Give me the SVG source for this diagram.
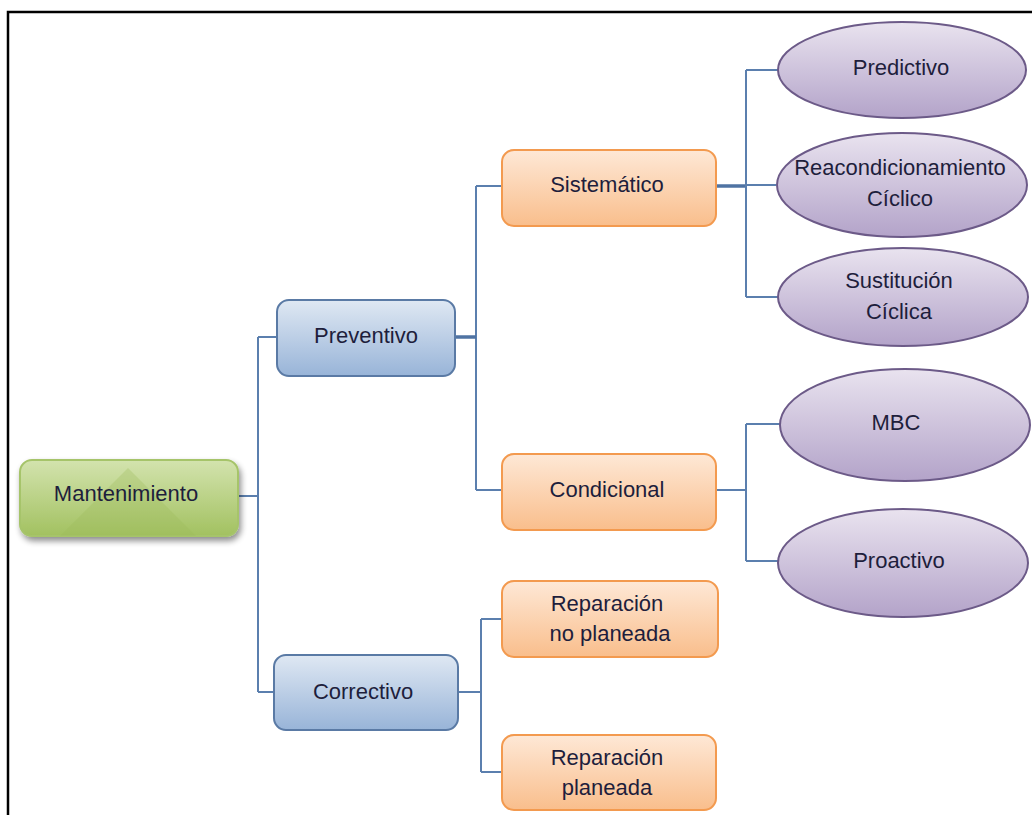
<svg xmlns="http://www.w3.org/2000/svg" width="1032" height="815" viewBox="0 0 1032 815">
<defs>
<linearGradient id="gOr" x1="0" y1="0" x2="0" y2="1"><stop offset="0" stop-color="#fee8d6"/><stop offset="1" stop-color="#f9be8c"/></linearGradient>
<linearGradient id="gBl" x1="0" y1="0" x2="0" y2="1"><stop offset="0" stop-color="#dfe8f3"/><stop offset="1" stop-color="#98b4d8"/></linearGradient>
<linearGradient id="gPu" x1="0" y1="0" x2="0" y2="1"><stop offset="0" stop-color="#e9e3ef"/><stop offset="1" stop-color="#b3a3c9"/></linearGradient>
<linearGradient id="gGr" x1="0" y1="0" x2="0" y2="1"><stop offset="0" stop-color="#d3e3ae"/><stop offset="1" stop-color="#a2c160"/></linearGradient>
<filter id="sh" x="-10%" y="-10%" width="125%" height="140%"><feGaussianBlur in="SourceAlpha" stdDeviation="3"/><feOffset dx="2" dy="4"/><feComponentTransfer><feFuncA type="linear" slope="0.45"/></feComponentTransfer><feMerge><feMergeNode/><feMergeNode in="SourceGraphic"/></feMerge></filter>
</defs>
<style>
text{font-family:"Liberation Sans",Arial,sans-serif;font-size:22px;fill:#1e1e3c;text-anchor:middle}
.or{fill:url(#gOr);stroke:#f39a4f;stroke-width:2}
.bl{fill:url(#gBl);stroke:#5a7aa5;stroke-width:2}
.pu{fill:url(#gPu);stroke:#6c5a88;stroke-width:2}
.gr{fill:url(#gGr);stroke:#a6c46b;stroke-width:2}
.cn{fill:none;stroke:#5b7fae;stroke-width:2}
.ck{fill:none;stroke:#4f73a3;stroke-width:3.5}
</style>
<rect x="8" y="12" width="1040" height="820" fill="none" stroke="#000" stroke-width="2.5"/>
<g id="connectors">
<path class="cn" d="M238 496H258M258 337V692M258 337H277M258 692H274"/>
<path class="cn" d="M476 186V490M476 186H502M476 490H502"/>
<path class="ck" d="M455 337H476"/>
<path class="cn" d="M458 692H481M481 619V772M481 619H502M481 772H502"/>
<path class="ck" d="M716 186H746"/>
<path class="cn" d="M746 70V297M746 70H778M746 185H776M746 297H778"/>
<path class="cn" d="M716 490H746M746 424V561M746 424H780M746 561H778"/>
</g>
<g id="n-mantenimiento"><rect class="gr" x="20" y="460" width="218" height="76" rx="12" filter="url(#sh)"/><path d="M60 536 L128 468 L196 536Z" fill="#9bbb59" opacity="0.3"/><text x="126" y="501">Mantenimiento</text></g>
<g id="n-preventivo"><rect class="bl" x="277" y="300" width="178" height="76" rx="12"/><text x="366" y="343">Preventivo</text></g>
<g id="n-correctivo"><rect class="bl" x="274" y="655" width="184" height="75" rx="12"/><text x="363" y="699">Correctivo</text></g>
<g id="n-sistematico"><rect class="or" x="502" y="150" width="214" height="76" rx="12"/><text x="607" y="192">Sistemático</text></g>
<g id="n-condicional"><rect class="or" x="502" y="454" width="214" height="76" rx="12"/><text x="607" y="497">Condicional</text></g>
<g id="n-rep-no"><rect class="or" x="502" y="581" width="216" height="76" rx="12"/><text x="607" y="611">Reparación</text><text x="610" y="641">no planeada</text></g>
<g id="n-rep"><rect class="or" x="502" y="735" width="214" height="75" rx="12"/><text x="607" y="765">Reparación</text><text x="607" y="795">planeada</text></g>
<g id="n-predictivo"><ellipse class="pu" cx="902" cy="70" rx="124" ry="48"/><text x="901" y="75">Predictivo</text></g>
<g id="n-reacond"><ellipse class="pu" cx="902" cy="185" rx="125" ry="52"/><text x="900" y="175">Reacondicionamiento</text><text x="900" y="206">Cíclico</text></g>
<g id="n-sustitucion"><ellipse class="pu" cx="903" cy="297" rx="125" ry="49"/><text x="899" y="288">Sustitución</text><text x="899" y="319">Cíclica</text></g>
<g id="n-mbc"><ellipse class="pu" cx="905" cy="425" rx="125" ry="56"/><text x="896" y="430">MBC</text></g>
<g id="n-proactivo"><ellipse class="pu" cx="903" cy="563" rx="125" ry="54"/><text x="899" y="568">Proactivo</text></g>
</svg>
